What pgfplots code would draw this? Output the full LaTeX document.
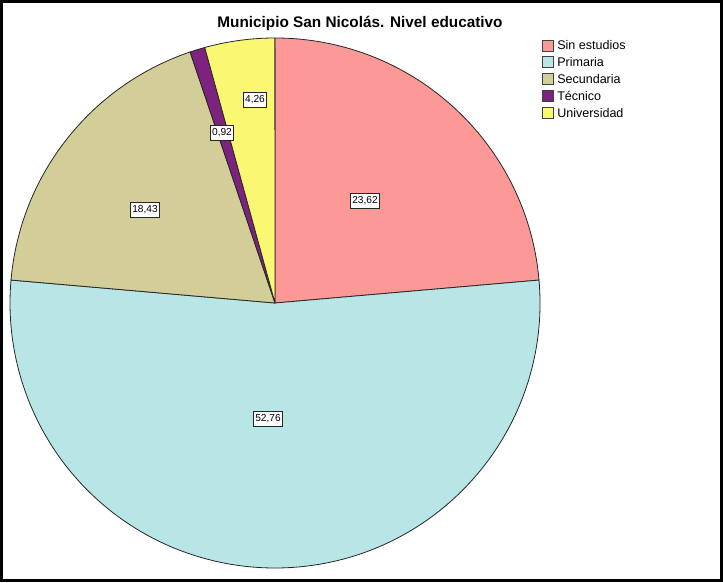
\documentclass[border=0pt]{standalone}
\usepackage{fontspec}
\setmainfont{Liberation Sans}
\usepackage{pgfplots}
\usepackage{pgfplotstable}
\pgfplotsset{compat=1.18}
\definecolor{c1}{RGB}{252,153,150}
\definecolor{c2}{RGB}{184,230,231}
\definecolor{c3}{RGB}{211,206,151}
\definecolor{c4}{RGB}{125,34,126}
\definecolor{c5}{RGB}{250,247,115}
\newcommand\lblfont{\fontsize{7.6}{9}\selectfont}
\newcommand\legfont{\fontsize{9.4}{11}\selectfont}
\newcommand\ttlfont{\fontsize{11.5}{13.8}\selectfont\bfseries}
% value (%), colour, label centre (px from top-left), name
\pgfplotstableread[col sep=comma]{
value,color,lx,ly,name
23.62,c1,365,201,Sin estudios
52.76,c2,268,419,Primaria
18.43,c3,145,210,Secundaria
0.92,c4,222,133,Técnico
4.26,c5,255,100,Universidad
}\pietable
\begin{document}
\begin{tikzpicture}
\begin{axis}[
  scale only axis, width=542.25pt, height=436.5pt,
  xmin=0, xmax=723, ymin=0, ymax=582,
  hide axis, clip=false]
\xdef\curang{90}
\pgfplotsinvokeforeach{0,...,4}{
  \pgfplotstablegetelem{#1}{value}\of\pietable \let\pv\pgfplotsretval
  \pgfplotstablegetelem{#1}{color}\of\pietable \let\pc\pgfplotsretval
  \pgfmathsetmacro\pea{\curang-3.6*\pv}
  \edef\tmp{\noexpand\filldraw[fill=\pc,draw=black!85,line width=0.6pt,line join=round] (axis cs:275,279) -- ++(\curang:198.75pt) arc[start angle=\curang,end angle=\pea,radius=198.75pt] -- cycle;}
  \tmp
  \xdef\curang{\pea}
}
\pgfplotsinvokeforeach{0,...,4}{
  \pgfplotstablegetelem{#1}{value}\of\pietable \let\pv\pgfplotsretval
  \pgfplotstablegetelem{#1}{color}\of\pietable \let\pc\pgfplotsretval
  \pgfplotstablegetelem{#1}{lx}\of\pietable \let\plx\pgfplotsretval
  \pgfplotstablegetelem{#1}{ly}\of\pietable \let\ply\pgfplotsretval
  \pgfplotstablegetelem{#1}{name}\of\pietable \let\pname\pgfplotsretval
  \edef\tmp{\noexpand\node[fill=white,draw=black!85,line width=0.6pt,inner xsep=1.1pt,inner ysep=2.2pt,font=\noexpand\lblfont] at (axis cs:\plx,{582-\ply}) {\noexpand\pgfmathprintnumber[use comma,fixed,fixed zerofill,precision=2,assume math mode=true]{\pv}};
  \noexpand\filldraw[fill=\pc,draw=black!75,line width=0.6pt] (axis cs:542,{582-(40+16.8*#1)}) rectangle ++(8.25pt,-8.25pt);
  \noexpand\node[anchor=base west,inner sep=0pt,font=\noexpand\legfont] at (axis cs:557,{582-(50+16.8*#1)}) {\pname};}
  \tmp
}
\node[anchor=base,inner sep=0pt,font=\ttlfont] at (axis cs:360,{582-28}) {Municipio San Nicolás. Nivel educativo};
\draw[line width=2.25pt] (axis cs:1.5,1.5) rectangle (axis cs:721.5,580.5);
\end{axis}
\end{tikzpicture}
\end{document}
